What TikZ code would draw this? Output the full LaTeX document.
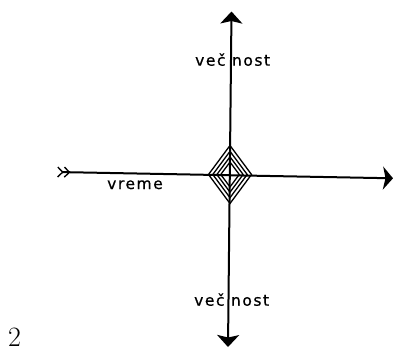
\documentclass[tikz,border=0pt]{standalone}
\usepackage{fontspec}
\newfontfamily\labelfont[LetterSpace=10,FakeBold=0.6]{DejaVu Sans}
\usetikzlibrary{arrows.meta}
\begin{document}
\begin{tikzpicture}[x=1pt,y=-1pt,
  axis/.style={line width=2pt},
  rhomb/.style={line width=1.3pt},
  lbl/.style={font=\labelfont\fontsize{15.5}{15.5}\selectfont, inner sep=0pt, anchor=base west},
  fig/.style={font=\fontsize{28}{28}\selectfont, inner sep=0pt, anchor=base west}]
\useasboundingbox (0,0) rectangle (393,351);
\coordinate (top) at (231.5,11.5);
\coordinate (bot) at (228,347);
\coordinate (left) at (57,172);
\coordinate (right) at (393,178.3);
\coordinate (c) at (230,174.5);
\draw[axis,{Stealth[length=12pt,width=22pt,inset=2.5pt]}-{Stealth[length=12pt,width=22pt,inset=2.5pt]}] (bot) -- (top);
\draw[axis,{Straight Barb[reversed,length=5pt,width=10pt,line width=1.4pt] Straight Barb[reversed,length=5pt,width=10pt,line width=1.4pt]}-{Stealth[length=10pt,width=23pt,inset=2.5pt]}] (left) -- (right);
\foreach \s in {1,0.8,0.61,0.43}
  \draw[rhomb,shift={(c)}] (0,-29*\s) -- (21.5*\s,0) -- (0,29*\s) -- (-21.5*\s,0) -- cycle;
\node[lbl] (vt) at (195,65.7) {več nost};
\node[lbl] (vb) at (194,305.7) {več nost};
\node[lbl] (vr) at (107,189) {vreme};
\node[fig] (n2) at (8,346) {2};
\end{tikzpicture}
\end{document}
